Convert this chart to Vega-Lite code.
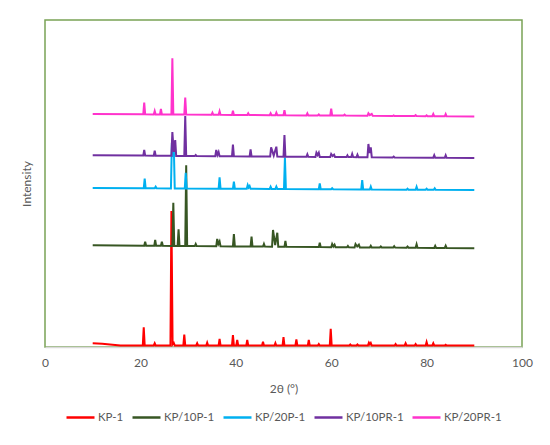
{
  "$schema": "https://vega.github.io/schema/vega-lite/v6.json",
  "autosize": {"type": "none"},
  "width": 477,
  "height": 327,
  "padding": {"left": 45, "top": 20, "right": 28, "bottom": 98},
  "background": "white",
  "config": {
    "font": "Lato",
    "view": {"stroke": "#7aa356", "strokeWidth": 1.5}
  },
  "data": {"values": [
    {"s":"KP-1","t":10,"i":3.7},{"s":"KP-1","t":12,"i":3.3},{"s":"KP-1","t":15.8,"i":1.5},
    {"s":"KP-1","t":20.5,"i":1.5},{"s":"KP-1","t":20.7,"i":19.7},{"s":"KP-1","t":20.9,"i":1.5},
    {"s":"KP-1","t":22.8,"i":1.5},{"s":"KP-1","t":23.0,"i":3.7},{"s":"KP-1","t":23.2,"i":1.5},
    {"s":"KP-1","t":26.3,"i":1.6},{"s":"KP-1","t":26.5,"i":136},{"s":"KP-1","t":26.75,"i":2.5},{"s":"KP-1","t":27.0,"i":4},{"s":"KP-1","t":27.2,"i":1.6},
    {"s":"KP-1","t":29.0,"i":1.6},{"s":"KP-1","t":29.2,"i":12.3},{"s":"KP-1","t":29.4,"i":1.6},
    {"s":"KP-1","t":31.7,"i":1.5},{"s":"KP-1","t":31.9,"i":3.7},{"s":"KP-1","t":32.1,"i":1.5},
    {"s":"KP-1","t":33.8,"i":1.5},{"s":"KP-1","t":34.0,"i":4.3},{"s":"KP-1","t":34.2,"i":1.5},
    {"s":"KP-1","t":36.4,"i":1.5},{"s":"KP-1","t":36.6,"i":8},{"s":"KP-1","t":36.8,"i":1.5},
    {"s":"KP-1","t":39.2,"i":1.5},{"s":"KP-1","t":39.4,"i":12},{"s":"KP-1","t":39.6,"i":1.5},
    {"s":"KP-1","t":40.1,"i":1.5},{"s":"KP-1","t":40.3,"i":7},{"s":"KP-1","t":40.5,"i":1.5},
    {"s":"KP-1","t":42.2,"i":1.5},{"s":"KP-1","t":42.4,"i":7},{"s":"KP-1","t":42.6,"i":1.5},
    {"s":"KP-1","t":45.5,"i":1.5},{"s":"KP-1","t":45.7,"i":5.3},{"s":"KP-1","t":45.9,"i":1.5},
    {"s":"KP-1","t":48.1,"i":1.5},{"s":"KP-1","t":48.3,"i":4},{"s":"KP-1","t":48.5,"i":1.5},
    {"s":"KP-1","t":49.8,"i":1.5},{"s":"KP-1","t":50.0,"i":10},{"s":"KP-1","t":50.2,"i":1.5},
    {"s":"KP-1","t":52.5,"i":1.5},{"s":"KP-1","t":52.7,"i":7.7},{"s":"KP-1","t":52.9,"i":1.5},
    {"s":"KP-1","t":55.1,"i":1.5},{"s":"KP-1","t":55.3,"i":7},{"s":"KP-1","t":55.5,"i":1.5},
    {"s":"KP-1","t":57.2,"i":1.5},{"s":"KP-1","t":57.4,"i":3},{"s":"KP-1","t":57.6,"i":1.5},
    {"s":"KP-1","t":59.7,"i":1.5},{"s":"KP-1","t":59.9,"i":18.3},{"s":"KP-1","t":60.1,"i":1.5},
    {"s":"KP-1","t":63.8,"i":1.5},{"s":"KP-1","t":64.0,"i":2.5},{"s":"KP-1","t":64.2,"i":1.5},
    {"s":"KP-1","t":65.3,"i":1.5},{"s":"KP-1","t":65.5,"i":2.5},{"s":"KP-1","t":65.7,"i":1.5},
    {"s":"KP-1","t":67.7,"i":1.5},{"s":"KP-1","t":67.9,"i":4.3},{"s":"KP-1","t":68.1,"i":2.5},{"s":"KP-1","t":68.3,"i":4},{"s":"KP-1","t":68.5,"i":1.5},
    {"s":"KP-1","t":73.3,"i":1.5},{"s":"KP-1","t":73.5,"i":3},{"s":"KP-1","t":73.7,"i":1.5},
    {"s":"KP-1","t":75.4,"i":1.5},{"s":"KP-1","t":75.6,"i":3.7},{"s":"KP-1","t":75.8,"i":1.5},
    {"s":"KP-1","t":77.5,"i":1.5},{"s":"KP-1","t":77.7,"i":3},{"s":"KP-1","t":77.9,"i":1.5},
    {"s":"KP-1","t":79.8,"i":1.5},{"s":"KP-1","t":80.0,"i":5},{"s":"KP-1","t":80.2,"i":1.5},
    {"s":"KP-1","t":81.2,"i":1.5},{"s":"KP-1","t":81.4,"i":3.7},{"s":"KP-1","t":81.6,"i":1.5},
    {"s":"KP-1","t":83.8,"i":1.5},{"s":"KP-1","t":84.0,"i":2.3},{"s":"KP-1","t":84.2,"i":1.5},
    {"s":"KP-1","t":90,"i":1.5},

    {"s":"KP/10P-1","t":10,"i":101.7},
    {"s":"KP/10P-1","t":20.8,"i":101.3},{"s":"KP/10P-1","t":21.0,"i":105.3},{"s":"KP/10P-1","t":21.2,"i":101.3},
    {"s":"KP/10P-1","t":22.9,"i":101.2},{"s":"KP/10P-1","t":23.1,"i":107},{"s":"KP/10P-1","t":23.3,"i":101.2},
    {"s":"KP/10P-1","t":24.3,"i":101.2},{"s":"KP/10P-1","t":24.5,"i":105.3},{"s":"KP/10P-1","t":24.7,"i":101.2},
    {"s":"KP/10P-1","t":26.7,"i":101.1},{"s":"KP/10P-1","t":26.9,"i":144.3},{"s":"KP/10P-1","t":27.1,"i":101.1},
    {"s":"KP/10P-1","t":27.8,"i":101},{"s":"KP/10P-1","t":28.0,"i":117.7},{"s":"KP/10P-1","t":28.2,"i":101},
    {"s":"KP/10P-1","t":29.4,"i":101},{"s":"KP/10P-1","t":29.6,"i":181.7},{"s":"KP/10P-1","t":29.8,"i":101},
    {"s":"KP/10P-1","t":31.4,"i":100.9},{"s":"KP/10P-1","t":31.6,"i":103},{"s":"KP/10P-1","t":31.8,"i":100.9},
    {"s":"KP/10P-1","t":35.9,"i":100.7},{"s":"KP/10P-1","t":36.1,"i":108},{"s":"KP/10P-1","t":36.35,"i":103},{"s":"KP/10P-1","t":36.6,"i":105.5},{"s":"KP/10P-1","t":36.8,"i":100.7},
    {"s":"KP/10P-1","t":39.4,"i":100.6},{"s":"KP/10P-1","t":39.6,"i":113},{"s":"KP/10P-1","t":39.8,"i":100.6},
    {"s":"KP/10P-1","t":43.1,"i":100.5},{"s":"KP/10P-1","t":43.3,"i":110.3},{"s":"KP/10P-1","t":43.5,"i":100.5},
    {"s":"KP/10P-1","t":45.7,"i":100.4},{"s":"KP/10P-1","t":45.9,"i":103},{"s":"KP/10P-1","t":46.1,"i":100.4},
    {"s":"KP/10P-1","t":47.6,"i":100.3},{"s":"KP/10P-1","t":47.8,"i":117},{"s":"KP/10P-1","t":48.25,"i":102},{"s":"KP/10P-1","t":48.7,"i":114.3},{"s":"KP/10P-1","t":48.9,"i":100.3},
    {"s":"KP/10P-1","t":50.2,"i":100.2},{"s":"KP/10P-1","t":50.4,"i":106},{"s":"KP/10P-1","t":50.6,"i":100.2},
    {"s":"KP/10P-1","t":57.4,"i":99.9},{"s":"KP/10P-1","t":57.6,"i":104.3},{"s":"KP/10P-1","t":57.8,"i":99.9},
    {"s":"KP/10P-1","t":60.0,"i":99.8},{"s":"KP/10P-1","t":60.2,"i":103},{"s":"KP/10P-1","t":60.45,"i":100.5},{"s":"KP/10P-1","t":60.7,"i":102.3},{"s":"KP/10P-1","t":60.9,"i":99.8},
    {"s":"KP/10P-1","t":63.3,"i":99.7},{"s":"KP/10P-1","t":63.5,"i":101},{"s":"KP/10P-1","t":63.7,"i":99.7},
    {"s":"KP/10P-1","t":64.9,"i":99.6},{"s":"KP/10P-1","t":65.1,"i":103},{"s":"KP/10P-1","t":65.45,"i":100.5},{"s":"KP/10P-1","t":65.8,"i":102.3},{"s":"KP/10P-1","t":66.0,"i":99.6},
    {"s":"KP/10P-1","t":68.1,"i":99.5},{"s":"KP/10P-1","t":68.3,"i":101.2},{"s":"KP/10P-1","t":68.5,"i":99.5},
    {"s":"KP/10P-1","t":70.2,"i":99.5},{"s":"KP/10P-1","t":70.4,"i":100.5},{"s":"KP/10P-1","t":70.6,"i":99.5},
    {"s":"KP/10P-1","t":73.0,"i":99.4},{"s":"KP/10P-1","t":73.2,"i":100.8},{"s":"KP/10P-1","t":73.4,"i":99.4},
    {"s":"KP/10P-1","t":75.8,"i":99.3},{"s":"KP/10P-1","t":76.0,"i":100.5},{"s":"KP/10P-1","t":76.2,"i":99.3},
    {"s":"KP/10P-1","t":77.7,"i":99.2},{"s":"KP/10P-1","t":77.9,"i":102.7},{"s":"KP/10P-1","t":78.1,"i":99.2},
    {"s":"KP/10P-1","t":81.6,"i":99.1},{"s":"KP/10P-1","t":81.8,"i":101.2},{"s":"KP/10P-1","t":82.0,"i":99.1},
    {"s":"KP/10P-1","t":83.8,"i":99},{"s":"KP/10P-1","t":84.0,"i":101.2},{"s":"KP/10P-1","t":84.2,"i":99},
    {"s":"KP/10P-1","t":90,"i":98.7},

    {"s":"KP/20P-1","t":10,"i":159},
    {"s":"KP/20P-1","t":20.7,"i":158.7},{"s":"KP/20P-1","t":20.9,"i":168.3},{"s":"KP/20P-1","t":21.1,"i":158.7},
    {"s":"KP/20P-1","t":23.0,"i":158.7},{"s":"KP/20P-1","t":23.2,"i":160.3},{"s":"KP/20P-1","t":23.4,"i":158.7},
    {"s":"KP/20P-1","t":26.4,"i":158.6},{"s":"KP/20P-1","t":26.6,"i":204},{"s":"KP/20P-1","t":26.8,"i":190},{"s":"KP/20P-1","t":27.0,"i":201},{"s":"KP/20P-1","t":27.2,"i":158.6},
    {"s":"KP/20P-1","t":29.3,"i":158.5},{"s":"KP/20P-1","t":29.5,"i":174.3},{"s":"KP/20P-1","t":29.7,"i":158.5},
    {"s":"KP/20P-1","t":36.4,"i":158.3},{"s":"KP/20P-1","t":36.6,"i":169.7},{"s":"KP/20P-1","t":36.8,"i":158.3},
    {"s":"KP/20P-1","t":39.4,"i":158.3},{"s":"KP/20P-1","t":39.6,"i":165.3},{"s":"KP/20P-1","t":39.8,"i":158.3},
    {"s":"KP/20P-1","t":42.3,"i":158.2},{"s":"KP/20P-1","t":42.5,"i":162},{"s":"KP/20P-1","t":42.7,"i":159.5},{"s":"KP/20P-1","t":42.9,"i":161},{"s":"KP/20P-1","t":43.1,"i":158.2},
    {"s":"KP/20P-1","t":47.1,"i":158.1},{"s":"KP/20P-1","t":47.3,"i":160.3},{"s":"KP/20P-1","t":47.5,"i":158.1},
    {"s":"KP/20P-1","t":48.3,"i":158},{"s":"KP/20P-1","t":48.5,"i":160.3},{"s":"KP/20P-1","t":48.7,"i":158},
    {"s":"KP/20P-1","t":50.1,"i":158},{"s":"KP/20P-1","t":50.3,"i":189.5},{"s":"KP/20P-1","t":50.5,"i":158},
    {"s":"KP/20P-1","t":57.4,"i":157.8},{"s":"KP/20P-1","t":57.6,"i":163.7},{"s":"KP/20P-1","t":57.8,"i":157.8},
    {"s":"KP/20P-1","t":60.0,"i":157.7},{"s":"KP/20P-1","t":60.2,"i":158.7},{"s":"KP/20P-1","t":60.4,"i":157.7},
    {"s":"KP/20P-1","t":66.3,"i":157.6},{"s":"KP/20P-1","t":66.5,"i":167},{"s":"KP/20P-1","t":66.7,"i":157.6},
    {"s":"KP/20P-1","t":68.1,"i":157.5},{"s":"KP/20P-1","t":68.3,"i":160.3},{"s":"KP/20P-1","t":68.5,"i":157.5},
    {"s":"KP/20P-1","t":75.8,"i":157.3},{"s":"KP/20P-1","t":76.0,"i":158.3},{"s":"KP/20P-1","t":76.2,"i":157.3},
    {"s":"KP/20P-1","t":77.7,"i":157.3},{"s":"KP/20P-1","t":77.9,"i":160.3},{"s":"KP/20P-1","t":78.1,"i":157.3},
    {"s":"KP/20P-1","t":79.8,"i":157.3},{"s":"KP/20P-1","t":80.0,"i":158.3},{"s":"KP/20P-1","t":80.2,"i":157.3},
    {"s":"KP/20P-1","t":81.5,"i":157.2},{"s":"KP/20P-1","t":81.7,"i":158.7},{"s":"KP/20P-1","t":81.9,"i":157.2},
    {"s":"KP/20P-1","t":90,"i":157},

    {"s":"KP/10PR-1","t":10,"i":191.7},
    {"s":"KP/10PR-1","t":20.6,"i":191.4},{"s":"KP/10PR-1","t":20.8,"i":197},{"s":"KP/10PR-1","t":21.0,"i":191.4},
    {"s":"KP/10PR-1","t":22.8,"i":191.3},{"s":"KP/10PR-1","t":23.0,"i":196.3},{"s":"KP/10PR-1","t":23.2,"i":191.3},
    {"s":"KP/10PR-1","t":26.5,"i":191.2},{"s":"KP/10PR-1","t":26.7,"i":215},{"s":"KP/10PR-1","t":27.0,"i":195},{"s":"KP/10PR-1","t":27.3,"i":207},{"s":"KP/10PR-1","t":27.5,"i":191.1},
    {"s":"KP/10PR-1","t":29.2,"i":191},{"s":"KP/10PR-1","t":29.4,"i":231},{"s":"KP/10PR-1","t":29.6,"i":191},
    {"s":"KP/10PR-1","t":31.4,"i":190.9},{"s":"KP/10PR-1","t":31.6,"i":192},{"s":"KP/10PR-1","t":31.8,"i":190.9},
    {"s":"KP/10PR-1","t":35.7,"i":190.8},{"s":"KP/10PR-1","t":35.9,"i":197},{"s":"KP/10PR-1","t":36.15,"i":192},{"s":"KP/10PR-1","t":36.4,"i":195},{"s":"KP/10PR-1","t":36.6,"i":190.8},
    {"s":"KP/10PR-1","t":39.2,"i":190.7},{"s":"KP/10PR-1","t":39.4,"i":202.3},{"s":"KP/10PR-1","t":39.6,"i":190.7},
    {"s":"KP/10PR-1","t":42.9,"i":190.6},{"s":"KP/10PR-1","t":43.1,"i":197.7},{"s":"KP/10PR-1","t":43.3,"i":190.6},
    {"s":"KP/10PR-1","t":47.2,"i":190.4},{"s":"KP/10PR-1","t":47.4,"i":199.7},{"s":"KP/10PR-1","t":47.95,"i":191.5},{"s":"KP/10PR-1","t":48.5,"i":200.3},{"s":"KP/10PR-1","t":48.7,"i":190.4},
    {"s":"KP/10PR-1","t":50.0,"i":190.3},{"s":"KP/10PR-1","t":50.2,"i":212},{"s":"KP/10PR-1","t":50.4,"i":190.3},
    {"s":"KP/10PR-1","t":54.8,"i":190.2},{"s":"KP/10PR-1","t":55.0,"i":192.7},{"s":"KP/10PR-1","t":55.2,"i":190.2},
    {"s":"KP/10PR-1","t":56.7,"i":190.1},{"s":"KP/10PR-1","t":56.9,"i":194.3},{"s":"KP/10PR-1","t":57.15,"i":192},{"s":"KP/10PR-1","t":57.4,"i":194.3},{"s":"KP/10PR-1","t":57.6,"i":190.1},
    {"s":"KP/10PR-1","t":59.8,"i":190},{"s":"KP/10PR-1","t":60.0,"i":193},{"s":"KP/10PR-1","t":60.3,"i":191},{"s":"KP/10PR-1","t":60.6,"i":192.3},{"s":"KP/10PR-1","t":60.8,"i":190},
    {"s":"KP/10PR-1","t":63.2,"i":189.9},{"s":"KP/10PR-1","t":63.4,"i":191.7},{"s":"KP/10PR-1","t":63.6,"i":189.9},
    {"s":"KP/10PR-1","t":64.2,"i":189.9},{"s":"KP/10PR-1","t":64.4,"i":193},{"s":"KP/10PR-1","t":64.6,"i":189.9},
    {"s":"KP/10PR-1","t":65.3,"i":189.8},{"s":"KP/10PR-1","t":65.5,"i":192.3},{"s":"KP/10PR-1","t":65.7,"i":189.8},
    {"s":"KP/10PR-1","t":67.6,"i":189.8},{"s":"KP/10PR-1","t":67.8,"i":203},{"s":"KP/10PR-1","t":68.05,"i":194},{"s":"KP/10PR-1","t":68.3,"i":199.7},{"s":"KP/10PR-1","t":68.5,"i":189.8},
    {"s":"KP/10PR-1","t":72.9,"i":189.6},{"s":"KP/10PR-1","t":73.1,"i":190.5},{"s":"KP/10PR-1","t":73.3,"i":189.6},
    {"s":"KP/10PR-1","t":81.4,"i":189.3},{"s":"KP/10PR-1","t":81.6,"i":191.7},{"s":"KP/10PR-1","t":81.8,"i":189.3},
    {"s":"KP/10PR-1","t":83.8,"i":189.2},{"s":"KP/10PR-1","t":84.0,"i":191.7},{"s":"KP/10PR-1","t":84.2,"i":189.2},
    {"s":"KP/10PR-1","t":90,"i":189},

    {"s":"KP/20PR-1","t":10,"i":233},
    {"s":"KP/20PR-1","t":20.6,"i":232.7},{"s":"KP/20PR-1","t":20.8,"i":244.3},{"s":"KP/20PR-1","t":21.0,"i":232.7},
    {"s":"KP/20PR-1","t":22.8,"i":232.6},{"s":"KP/20PR-1","t":23.0,"i":236},{"s":"KP/20PR-1","t":23.2,"i":232.6},
    {"s":"KP/20PR-1","t":24.1,"i":232.5},{"s":"KP/20PR-1","t":24.3,"i":238},{"s":"KP/20PR-1","t":24.5,"i":232.5},
    {"s":"KP/20PR-1","t":26.5,"i":232.5},{"s":"KP/20PR-1","t":26.7,"i":288.7},{"s":"KP/20PR-1","t":26.9,"i":232.6},
    {"s":"KP/20PR-1","t":29.2,"i":232.4},{"s":"KP/20PR-1","t":29.4,"i":249.5},{"s":"KP/20PR-1","t":29.6,"i":232.4},
    {"s":"KP/20PR-1","t":34.9,"i":232.2},{"s":"KP/20PR-1","t":35.1,"i":234.3},{"s":"KP/20PR-1","t":35.3,"i":232.2},
    {"s":"KP/20PR-1","t":36.4,"i":232.2},{"s":"KP/20PR-1","t":36.6,"i":235.7},{"s":"KP/20PR-1","t":36.8,"i":232.2},
    {"s":"KP/20PR-1","t":39.2,"i":232.1},{"s":"KP/20PR-1","t":39.4,"i":236.3},{"s":"KP/20PR-1","t":39.6,"i":232.1},
    {"s":"KP/20PR-1","t":42.4,"i":232},{"s":"KP/20PR-1","t":42.6,"i":233.7},{"s":"KP/20PR-1","t":42.8,"i":232},
    {"s":"KP/20PR-1","t":47.1,"i":231.8},{"s":"KP/20PR-1","t":47.3,"i":233.7},{"s":"KP/20PR-1","t":47.5,"i":231.8},
    {"s":"KP/20PR-1","t":48.3,"i":231.8},{"s":"KP/20PR-1","t":48.5,"i":234.3},{"s":"KP/20PR-1","t":48.7,"i":231.8},
    {"s":"KP/20PR-1","t":50.0,"i":231.8},{"s":"KP/20PR-1","t":50.2,"i":236.7},{"s":"KP/20PR-1","t":50.4,"i":231.8},
    {"s":"KP/20PR-1","t":54.8,"i":231.6},{"s":"KP/20PR-1","t":55.0,"i":233.7},{"s":"KP/20PR-1","t":55.2,"i":231.6},
    {"s":"KP/20PR-1","t":57.2,"i":231.6},{"s":"KP/20PR-1","t":57.4,"i":232.6},{"s":"KP/20PR-1","t":57.6,"i":231.6},
    {"s":"KP/20PR-1","t":59.8,"i":231.5},{"s":"KP/20PR-1","t":60.0,"i":238.3},{"s":"KP/20PR-1","t":60.2,"i":231.5},
    {"s":"KP/20PR-1","t":62.6,"i":231.4},{"s":"KP/20PR-1","t":62.8,"i":232.3},{"s":"KP/20PR-1","t":63.0,"i":231.4},
    {"s":"KP/20PR-1","t":67.6,"i":231.2},{"s":"KP/20PR-1","t":67.8,"i":233.7},{"s":"KP/20PR-1","t":68.1,"i":231.8},{"s":"KP/20PR-1","t":68.5,"i":233},{"s":"KP/20PR-1","t":68.7,"i":231.2},
    {"s":"KP/20PR-1","t":72.9,"i":231},{"s":"KP/20PR-1","t":73.1,"i":231.6},{"s":"KP/20PR-1","t":73.3,"i":231},
    {"s":"KP/20PR-1","t":77.5,"i":230.9},{"s":"KP/20PR-1","t":77.7,"i":231.8},{"s":"KP/20PR-1","t":77.9,"i":230.9},
    {"s":"KP/20PR-1","t":79.8,"i":230.8},{"s":"KP/20PR-1","t":80.0,"i":231.7},{"s":"KP/20PR-1","t":80.2,"i":230.8},
    {"s":"KP/20PR-1","t":81.2,"i":230.8},{"s":"KP/20PR-1","t":81.4,"i":233},{"s":"KP/20PR-1","t":81.6,"i":230.8},
    {"s":"KP/20PR-1","t":83.8,"i":230.7},{"s":"KP/20PR-1","t":84.0,"i":233},{"s":"KP/20PR-1","t":84.2,"i":230.7},
    {"s":"KP/20PR-1","t":90,"i":230.5}
  ]},
  "mark": {"type": "line", "strokeWidth": 2, "interpolate": "linear"},
  "encoding": {
    "x": {
      "field": "t", "type": "quantitative",
      "scale": {"domain": [0, 100], "nice": false},
      "axis": {
        "title": "2θ (°)", "values": [0, 20, 40, 60, 80, 100],
        "grid": false, "ticks": false, "labelFlush": false,
        "domainColor": "#d9d9d9", "domainWidth": 1.5,
        "labelFontSize": 12, "labelColor": "#595959", "labelPadding": 10,
        "titleFontSize": 12, "titleColor": "#595959", "titleFontWeight": "normal", "titlePadding": 15
      }
    },
    "y": {
      "field": "i", "type": "quantitative",
      "scale": {"domain": [0, 327], "nice": false, "zero": false},
      "axis": {
        "title": "Intensity", "labels": false, "ticks": false, "domain": false, "grid": false,
        "titleFontSize": 12, "titleColor": "#595959", "titleFontWeight": "normal", "titlePadding": 12
      }
    },
    "color": {
      "field": "s", "type": "nominal",
      "scale": {
        "domain": ["KP-1", "KP/10P-1", "KP/20P-1", "KP/10PR-1", "KP/20PR-1"],
        "range": ["#ff0000", "#375623", "#00b0f0", "#7030a0", "#ff33cc"]
      },
      "legend": {
        "title": null, "orient": "none", "direction": "horizontal",
        "legendX": 20, "legendY": 382, "gridAlign": "none",
        "symbolType": "stroke", "symbolSize": 784, "symbolStrokeWidth": 2.5,
        "labelFontSize": 11.5, "labelColor": "#595959", "labelOffset": 2,
        "columnPadding": 3
      }
    }
  }
}
